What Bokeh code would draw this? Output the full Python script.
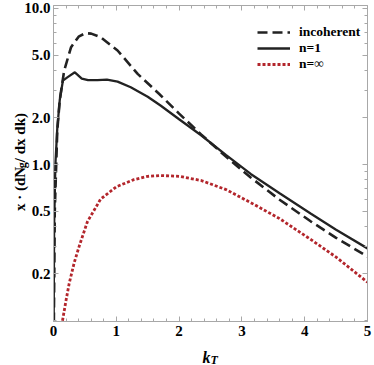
import math
from bokeh.plotting import figure
from bokeh.models import (Range1d, LinearAxis, LogAxis, FixedTicker, Legend, LegendItem)
from bokeh.core.properties import value
from bokeh.embed import file_html
from bokeh.resources import INLINE

# ---- data ----
kt_inc = [0.0, 0.02, 0.06, 0.1, 0.17, 0.28, 0.4, 0.51, 0.6, 0.75, 1.02, 1.34, 1.68,
          2.0, 2.35, 2.75, 3.14, 3.6, 4.1, 4.5, 5.0]
incoherent = [0.05, 0.5, 1.65, 2.6, 4.0, 5.65, 6.6, 6.95, 6.9, 6.55, 5.38, 3.81, 2.84,
              2.12, 1.56, 1.12, 0.826, 0.595, 0.431, 0.339, 0.257]

kt_n1 = [0.0, 0.01, 0.03, 0.06, 0.1, 0.15, 0.22, 0.34, 0.45, 0.55, 0.7, 0.85, 1.02,
         1.23, 1.5, 1.71, 2.0, 2.35, 2.75, 3.14, 3.6, 4.1, 4.5, 5.0]
n_one = [0.05, 0.4, 1.0, 1.7, 2.6, 3.45, 3.62, 3.9, 3.55, 3.47, 3.47, 3.5, 3.4,
         3.13, 2.72, 2.38, 1.95, 1.54, 1.15, 0.87, 0.655, 0.484, 0.382, 0.29]

kt_inf = [0.12, 0.14, 0.2, 0.25, 0.33, 0.41, 0.54, 0.75, 1.0, 1.28, 1.5, 1.71, 2.0,
          2.35, 2.75, 3.14, 3.6, 4.1, 4.5, 5.0]
n_inf = [0.08, 0.098, 0.135, 0.173, 0.235, 0.3, 0.43, 0.6, 0.72, 0.8, 0.84, 0.85, 0.84,
         0.79, 0.69, 0.57, 0.45, 0.33, 0.255, 0.176]

x_ticks = [0, 1, 2, 3, 4, 5]
y_ticks = [0.2, 0.5, 1.0, 2.0, 5.0, 10.0]
y_tick_labels = ["0.2", "0.5", "1.0", "2.0", "5.0", "10.0"]
y_minor = [0.1, 0.3, 0.4, 0.6, 0.7, 0.8, 0.9, 3, 4, 6, 7, 8, 9]
legend_labels = ["incoherent", "n=1", "n=\u221e"]

FONT = "Liberation Serif"
GRAY = "#a8a8a8"
RED = "#b3262c"

p = figure(width=374, height=365, output_backend="svg", toolbar_location=None,
           x_range=Range1d(0, 5), y_range=Range1d(0.0986, 10.45), y_axis_type="log",
           min_border_left=53, min_border_right=7, min_border_top=5, min_border_bottom=44,
           x_axis_location=None, y_axis_location=None)
p.outline_line_color = None
p.grid.visible = False
p.background_fill_color = "white"
p.border_fill_color = "white"

r_inc = p.line(kt_inc, incoherent, line_color="#222222", line_width=2.6, line_dash="10 5")
r_n1 = p.line(kt_n1, n_one, line_color="#222222", line_width=2.3)
r_inf = p.line(kt_inf, n_inf, line_color=RED, line_width=2.8, line_dash="3 2")

def style(ax, labels=True):
    ax.axis_line_color = GRAY
    ax.major_tick_line_color = GRAY
    ax.minor_tick_line_color = GRAY
    ax.major_tick_in = 5
    ax.major_tick_out = 0
    ax.minor_tick_in = 3
    ax.minor_tick_out = 0
    ax.major_label_text_font = FONT
    ax.major_label_text_font_style = "bold"
    ax.major_label_text_font_size = "15px"
    ax.major_label_text_color = "black"
    if not labels:
        ax.major_label_text_font_size = "0px"
        ax.major_label_text_color = None

xt = FixedTicker(ticks=x_ticks, minor_ticks=[i * 0.2 for i in range(26)])
yt = FixedTicker(ticks=y_ticks, minor_ticks=y_minor)
ylab = {t: s for t, s in zip(y_ticks, y_tick_labels)}

xb = LinearAxis(ticker=xt, major_label_standoff=4)
style(xb)
p.add_layout(xb, "below")
xa = LinearAxis(ticker=xt)
style(xa, False)
p.add_layout(xa, "above")
yl = LogAxis(ticker=yt, major_label_overrides=ylab, major_label_standoff=3)
style(yl)
p.add_layout(yl, "left")
yr = LogAxis(ticker=yt)
style(yr, False)
p.add_layout(yr, "right")

# axis titles as overlay-level text anchored at the frame's lower-left corner
ax0, ay0 = 0.0, 0.0986
ycen = 159.5
fs = 15
w1 = 2.861 * fs
wg = 0.5 * 12
w3 = 3.279 * fs
ys = ycen - (w1 + wg + w3) / 2
tcommon = dict(angle=math.pi / 2, text_font=value(FONT), text_font_style="bold",
               text_color="black", text_align="left", text_baseline="alphabetic",
               level="overlay")
p.text(x=[ax0], y=[ay0], text=["x \u00b7 (dN"], x_offset=-34, y_offset=-ys,
       text_font_size="15px", **tcommon)
p.text(x=[ax0], y=[ay0], text=["g"], x_offset=-32, y_offset=-(ys + w1),
       text_font_size="12px", **tcommon)
p.text(x=[ax0], y=[ay0], text=["/ dx dk)"], x_offset=-34, y_offset=-(ys + w1 + wg),
       text_font_size="15px", **tcommon)

kcommon = dict(text_font=value(FONT), text_font_style="bold italic", text_color="black",
               text_align="left", text_baseline="alphabetic", level="overlay")
p.text(x=[ax0], y=[ay0], text=["k"], x_offset=149, y_offset=36, text_font_size="16px", **kcommon)
p.text(x=[ax0], y=[ay0], text=["T"], x_offset=157, y_offset=38, text_font_size="12px", **kcommon)

legend = Legend(items=[LegendItem(label=legend_labels[0], renderers=[r_inc]),
                       LegendItem(label=legend_labels[1], renderers=[r_n1]),
                       LegendItem(label=legend_labels[2], renderers=[r_inf])],
                location=(204, 249), padding=0, spacing=0, margin=0,
                glyph_width=33, glyph_height=16, label_height=16, label_standoff=9,
                label_text_font=FONT, label_text_font_style="bold",
                label_text_font_size="13.5px", label_text_color="black",
                border_line_color=None, background_fill_alpha=0)
p.add_layout(legend, "center")

open("out.html", "w").write(file_html(p, INLINE))
